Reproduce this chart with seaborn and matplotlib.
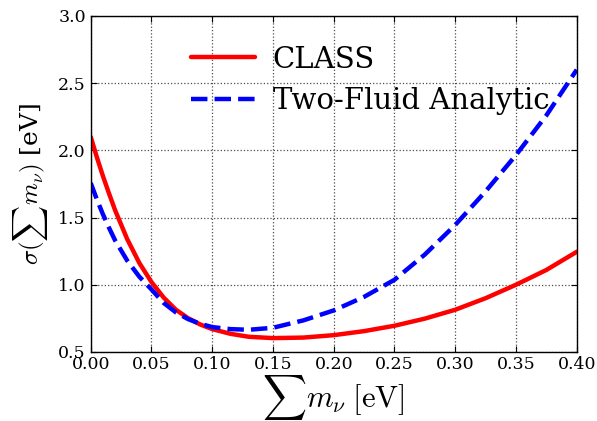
import matplotlib
matplotlib.use("Agg")
import matplotlib.pyplot as plt
import seaborn as sns
import pandas as pd
import numpy as np

mnu = [0.0, 0.005, 0.01, 0.015, 0.02, 0.03, 0.04, 0.05, 0.06, 0.07, 0.08, 0.09, 0.10,
       0.115, 0.13, 0.15, 0.175, 0.20, 0.225, 0.25, 0.275, 0.30, 0.325, 0.35, 0.375, 0.40]
sigma_class = [2.10, 1.95, 1.81, 1.68, 1.556, 1.34, 1.162, 1.02, 0.905, 0.815, 0.752, 0.705, 0.67,
               0.635, 0.613, 0.603, 0.607, 0.625, 0.655, 0.695, 0.748, 0.814, 0.90, 1.00, 1.11, 1.245]
sigma_fluid = [1.757, 1.636, 1.525, 1.425, 1.331, 1.18, 1.06, 0.965, 0.865, 0.795, 0.745, 0.71, 0.685,
               0.67, 0.665, 0.68, 0.735, 0.809, 0.91, 1.037, 1.225, 1.445, 1.695, 1.965, 2.26, 2.60]

sns.set_style("ticks")
plt.rcParams['font.family'] = ['DejaVu Serif']
plt.rcParams['mathtext.fontset'] = 'cm'
plt.rcParams['text.color'] = 'black'
plt.rcParams['axes.labelcolor'] = 'black'
plt.rcParams['xtick.color'] = 'black'
plt.rcParams['ytick.color'] = 'black'

df = pd.DataFrame({
    "mnu": mnu * 2,
    "sigma": sigma_class + sigma_fluid,
    "model": ["CLASS"] * len(mnu) + ["Two-Fluid Analytic"] * len(mnu),
})

fig = plt.figure(figsize=(5.97, 4.21), dpi=100)
ax = fig.add_axes([0.152, 0.164, 0.814, 0.798])

sns.lineplot(data=df[df.model == "CLASS"], x="mnu", y="sigma", ax=ax,
             color="red", lw=3.2, label="CLASS")
sns.lineplot(data=df[df.model == "Two-Fluid Analytic"], x="mnu", y="sigma", ax=ax,
             color="blue", lw=3.2, linestyle="--", label="Two-Fluid Analytic")

ax.set_xlim(0, 0.40)
ax.set_ylim(0.5, 3.0)
xt = np.arange(0, 0.401, 0.05)
yt = np.arange(0.5, 3.01, 0.5)
ax.set_xticks(xt)
ax.set_xticklabels([f"{v:.2f}" for v in xt])
ax.set_yticks(yt)
ax.set_yticklabels([f"{v:.1f}" for v in yt])
ax.tick_params(direction="in", top=True, right=True, labelsize=12.5, length=4, width=0.8,
               colors="black")
ax.tick_params(axis="x", pad=3)
ax.grid(True, linestyle=":", color="0.3", linewidth=0.9)
for s in ax.spines.values():
    s.set_linewidth(1.0)
    s.set_color("black")

ax.set_xlabel(r"$\sum m_\nu\;[\mathrm{eV}]$", fontsize=22, labelpad=0)
ax.set_ylabel(r"$\sigma(\sum m_\nu)$ [eV]", fontsize=18, labelpad=6)

leg = ax.legend(loc="upper center", bbox_to_anchor=(0.575, 0.99), frameon=False,
                fontsize=21, handlelength=2.2, handletextpad=0.6, labelspacing=0.45)

fig.savefig("out.png", dpi=100)
